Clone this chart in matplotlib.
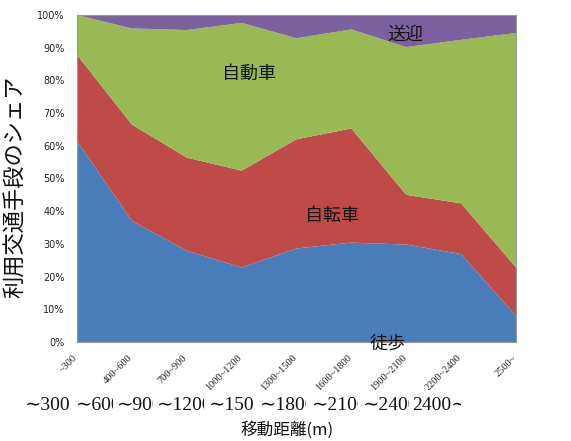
import matplotlib
matplotlib.use("Agg")
import matplotlib.pyplot as plt
from matplotlib.transforms import Bbox, TransformedBbox
import numpy as np

plt.rcParams['font.family'] = ['DejaVu Sans', 'Noto Sans CJK JP']

# Data (shares in %)
small_labels = ["~300", "400~600", "700~900", "1000~1200", "1300~1500",
                "1600~1800", "1900~2100", "2200~2400", "2500~"]
big_labels = ["∼300", "∼600", "∼900", "∼1200", "∼1500",
              "∼1800", "∼2100", "∼2400", "2400∼"]
walk = [61.5, 37.1, 27.9, 22.8, 28.6, 30.4, 29.8, 26.9, 8.0]
bike = [26.3, 29.4, 28.5, 29.6, 33.4, 34.9, 15.2, 15.5, 14.8]
car = [12.2, 29.4, 39.0, 45.2, 30.9, 30.3, 45.2, 50.0, 71.7]
pickup = [0.0, 4.1, 4.6, 2.4, 7.1, 4.4, 9.8, 7.6, 5.5]
series_names = ["徒歩", "自転車", "自動車", "送迎"]
colors = ["#4A7EBB", "#BE4B48", "#98B954", "#7D60A0"]

W, H = 571, 441
fig = plt.figure(figsize=(W / 100, H / 100), dpi=100)
ax = fig.add_axes([77 / W, 1 - 342 / H, (516 - 77) / W, (342 - 15) / H])

x = np.arange(len(walk))
ax.stackplot(x, walk, bike, car, pickup, colors=colors, linewidth=0)
ax.set_xlim(0, len(walk) - 1)
ax.set_ylim(0, 100)
ax.set_yticks(np.arange(0, 101, 10))
ax.set_yticklabels([f"{v}%" for v in range(0, 101, 10)], fontsize=7, color="#222222")
ax.tick_params(axis='y', length=0, pad=9)
ax.set_xticks([])
for s in ax.spines.values():
    s.set_color("#999999")
    s.set_linewidth(0.8)

# rotated small tick labels, clipped at bottom
clip = TransformedBbox(Bbox([[0, (H - 390) / H], [1, 1]]), fig.transFigure)
for i, lab in enumerate(small_labels):
    t = ax.text(i + 0.04, -0.035, lab, transform=ax.get_xaxis_transform(),
                rotation=45, ha='right', va='top', fontsize=7.5, color="#222222",
                family=['Liberation Serif', 'DejaVu Sans'])
    t.set_clip_box(clip)
    t.set_clip_on(True)

# big labels row, each clipped on the right
lefts = [25, 76, 117, 157, 209, 260, 312, 363, 412]
rights = [68, 112, 152, 203, 253, 305, 357, 408, 460]
for lab, l, r in zip(big_labels, lefts, rights):
    t = fig.text(l / W, 1 - 406 / H, lab, ha='left', va='center', fontsize=14,
                 family=['Liberation Serif', 'DejaVu Serif'], color="#111111")
    cb = TransformedBbox(Bbox([[0, 0], [(r + 1) / W, 1]]), fig.transFigure)
    t.set_clip_box(cb)
    t.set_clip_on(True)

fig.text(287 / W, 1 - 430 / H, "移動距離(m)", ha='center', va='center', fontsize=12,
         family=['Noto Sans CJK JP'], color="#111111")
fig.text(16 / W, 1 - 187 / H, "利用交通手段のシェア", ha='center', va='center',
         rotation=90, fontsize=16, family=['Noto Sans CJK JP'], color="#111111")

# series labels
fig.text(249 / W, 1 - 74 / H, "自動車", ha='center', va='center', fontsize=13,
         family=['Noto Sans CJK JP'], color="#111111")
fig.text(332 / W, 1 - 216 / H, "自転車", ha='center', va='center', fontsize=13,
         family=['Noto Sans CJK JP'], color="#111111")
fig.text(405 / W, 1 - 35 / H, "送迎", ha='center', va='center', fontsize=13,
         family=['Noto Sans CJK JP'], color="#111111")
fig.text(388 / W, 1 - 344 / H, "徒歩", ha='center', va='center', fontsize=13,
         family=['Noto Sans CJK JP'], color="#111111")

fig.savefig("out.png", dpi=100)
